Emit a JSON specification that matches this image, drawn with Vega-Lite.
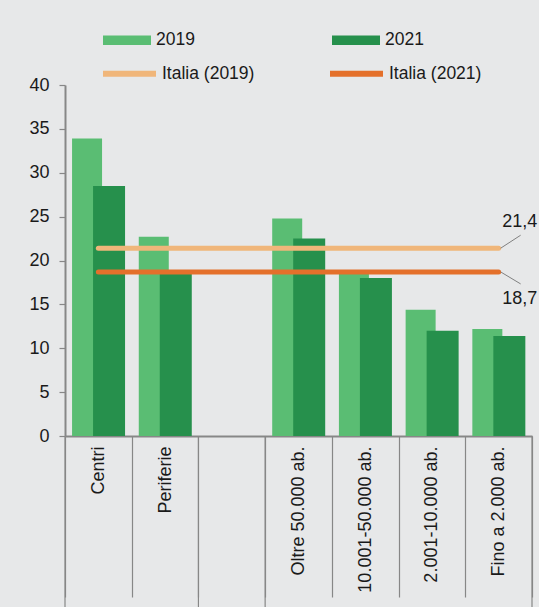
{
  "$schema": "https://vega.github.io/schema/vega-lite/v6.json",
  "width": 467,
  "height": 351,
  "autosize": {"type": "none"},
  "padding": {"left": 65, "top": 85, "right": 7, "bottom": 171},
  "background": "#e7e8e9",
  "config": {
    "view": {"stroke": null},
    "font": "Liberation Sans",
    "axisX": {
      "title": null,
      "domainColor": "#878787",
      "domainWidth": 2,
      "tickBand": "extent",
      "tickSize": 161,
      "tickColor": "#878787",
      "tickWidth": 1.2,
      "labelAngle": 270,
      "labelPadding": -151,
      "labelFontSize": 18,
      "labelColor": "#1a1a1a",
      "labelLimit": 200
    },
    "axisY": {
      "title": null,
      "grid": false,
      "domainColor": "#878787",
      "domainWidth": 2,
      "tickColor": "#878787",
      "tickWidth": 1.2,
      "tickSize": 6,
      "labelPadding": 10,
      "labelFontSize": 18,
      "labelColor": "#1a1a1a"
    },
    "legend": {"labelFontSize": 17.5, "labelColor": "#1a1a1a", "padding": 0}
  },
  "datasets": {
    "bars": [
      {"cat": "Centri", "year": "2019", "value": 33.9},
      {"cat": "Centri", "year": "2021", "value": 28.5},
      {"cat": "Periferie", "year": "2019", "value": 22.7},
      {"cat": "Periferie", "year": "2021", "value": 18.6},
      {"cat": "Oltre 50.000 ab.", "year": "2019", "value": 24.8},
      {"cat": "Oltre 50.000 ab.", "year": "2021", "value": 22.5},
      {"cat": "10.001-50.000 ab.", "year": "2019", "value": 18.9},
      {"cat": "10.001-50.000 ab.", "year": "2021", "value": 18.0},
      {"cat": "2.001-10.000 ab.", "year": "2019", "value": 14.4},
      {"cat": "2.001-10.000 ab.", "year": "2021", "value": 12.0},
      {"cat": "Fino a 2.000 ab.", "year": "2019", "value": 12.2},
      {"cat": "Fino a 2.000 ab.", "year": "2021", "value": 11.4}
    ],
    "lines": [
      {"cat": "Centri", "serie": "Italia (2019)", "value": 21.4},
      {"cat": "Fino a 2.000 ab.", "serie": "Italia (2019)", "value": 21.4},
      {"cat": "Centri", "serie": "Italia (2021)", "value": 18.7},
      {"cat": "Fino a 2.000 ab.", "serie": "Italia (2021)", "value": 18.7}
    ],
    "annot": [
      {"cat": "Fino a 2.000 ab.", "label": "21,4", "value": 21.4},
      {"cat": "Fino a 2.000 ab.", "label": "18,7", "value": 18.7}
    ],
    "seps": [
      {"cat": "Centri", "side": "start"},
      {"cat": "Periferie", "side": "end"},
      {"cat": " ", "side": "end"},
      {"cat": "Fino a 2.000 ab.", "side": "end"}
    ]
  },
  "layer": [
    {
      "data": {"name": "bars"},
      "transform": [{"filter": "datum.year == '2019'"}],
      "mark": {"type": "bar", "width": 30, "xOffset": -11.3},
      "encoding": {
        "x": {
          "field": "cat", "type": "nominal", "sort": null,
          "scale": {
            "domain": ["Centri", "Periferie", " ", "Oltre 50.000 ab.", "10.001-50.000 ab.", "2.001-10.000 ab.", "Fino a 2.000 ab."],
            "paddingInner": 0, "paddingOuter": 0
          }
        },
        "y": {
          "field": "value", "type": "quantitative",
          "scale": {"domain": [0, 40], "nice": false, "zero": true},
          "axis": {"values": [0, 5, 10, 15, 20, 25, 30, 35, 40]}
        },
        "color": {
          "field": "year", "type": "nominal",
          "scale": {"domain": ["2019", "2021"], "range": ["#5abd73", "#26904c"]},
          "legend": {
            "title": null, "orient": "none", "legendX": 38, "legendY": -69,
            "direction": "horizontal", "columns": 2, "columnPadding": 137,
            "symbolType": "M-1,-0.2H1V0.2H-1Z", "symbolSize": 2304,
            "symbolStrokeWidth": 0, "labelOffset": 5
          }
        }
      }
    },
    {
      "data": {"name": "bars"},
      "transform": [{"filter": "datum.year == '2021'"}],
      "mark": {"type": "bar", "width": 32, "xOffset": 10.7},
      "encoding": {
        "x": {"field": "cat", "type": "nominal", "sort": null},
        "y": {"field": "value", "type": "quantitative"},
        "color": {"field": "year", "type": "nominal"}
      }
    },
    {
      "data": {"name": "lines"},
      "mark": {"type": "line", "strokeWidth": 5, "strokeCap": "round"},
      "encoding": {
        "x": {"field": "cat", "type": "nominal", "sort": null},
        "y": {"field": "value", "type": "quantitative"},
        "stroke": {
          "field": "serie", "type": "nominal",
          "scale": {"domain": ["Italia (2019)", "Italia (2021)"], "range": ["#f0b67a", "#e4702b"]},
          "legend": {
            "title": null, "orient": "none", "legendX": 35, "legendY": -41,
            "direction": "horizontal", "columns": 2, "columnPadding": 63,
            "symbolType": "M-1,0H1", "symbolSize": 2809,
            "symbolStrokeWidth": 6, "labelOffset": 3
          }
        }
      }
    },
    {
      "data": {"name": "annot"},
      "transform": [{"filter": "datum.label == '21,4'"}],
      "mark": {"type": "rule", "color": "#808080", "strokeWidth": 1, "xOffset": 2, "x2Offset": 22, "y2Offset": -13},
      "encoding": {
        "x": {"field": "cat", "type": "nominal"},
        "x2": {"field": "cat"},
        "y": {"field": "value", "type": "quantitative"},
        "y2": {"field": "value"}
      }
    },
    {
      "data": {"name": "annot"},
      "transform": [{"filter": "datum.label == '18,7'"}],
      "mark": {"type": "rule", "color": "#808080", "strokeWidth": 1, "xOffset": 2, "x2Offset": 22, "y2Offset": 12},
      "encoding": {
        "x": {"field": "cat", "type": "nominal"},
        "x2": {"field": "cat"},
        "y": {"field": "value", "type": "quantitative"},
        "y2": {"field": "value"}
      }
    },
    {
      "data": {"name": "annot"},
      "transform": [{"filter": "datum.label == '21,4'"}],
      "mark": {"type": "text", "fontSize": 18, "color": "#1a1a1a", "dx": 21, "dy": -26, "align": "center", "baseline": "middle"},
      "encoding": {
        "x": {"field": "cat", "type": "nominal"},
        "y": {"field": "value", "type": "quantitative"},
        "text": {"field": "label"}
      }
    },
    {
      "data": {"name": "annot"},
      "transform": [{"filter": "datum.label == '18,7'"}],
      "mark": {"type": "text", "fontSize": 18, "color": "#1a1a1a", "dx": 21, "dy": 27, "align": "center", "baseline": "middle"},
      "encoding": {
        "x": {"field": "cat", "type": "nominal"},
        "y": {"field": "value", "type": "quantitative"},
        "text": {"field": "label"}
      }
    },
    {
      "data": {"name": "seps"},
      "transform": [{"filter": "datum.side == 'end'"}],
      "mark": {"type": "rule", "color": "#878787", "strokeWidth": 1.2, "y2Offset": 175},
      "encoding": {
        "x": {"field": "cat", "type": "nominal", "bandPosition": 1},
        "y": {"datum": 0},
        "y2": {"datum": 0}
      }
    },
    {
      "data": {"name": "seps"},
      "transform": [{"filter": "datum.side == 'start'"}],
      "mark": {"type": "rule", "color": "#878787", "strokeWidth": 1.2, "y2Offset": 175},
      "encoding": {
        "x": {"field": "cat", "type": "nominal", "bandPosition": 0},
        "y": {"datum": 0},
        "y2": {"datum": 0}
      }
    }
  ]
}
